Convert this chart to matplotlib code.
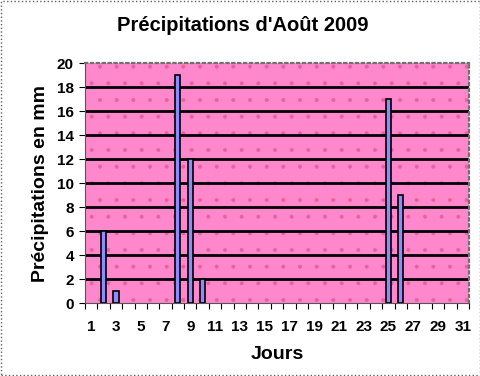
import matplotlib.pyplot as plt
from matplotlib.patches import Rectangle
import numpy as np

plt.rcParams['font.family'] = ['Liberation Sans', 'DejaVu Sans']
plt.rcParams['hatch.linewidth'] = 0.4

# rainfall for each day of August 2009 (mm)
days = list(range(1, 32))
pluie = [0, 6, 1, 0, 0, 0, 0, 19, 12, 2, 0, 0, 0, 0, 0, 0,
         0, 0, 0, 0, 0, 0, 0, 0, 17, 9, 0, 0, 0, 0, 0]
yticks = list(range(0, 21, 2))

fig = plt.figure(figsize=(4.81, 3.76), dpi=100)
ax = fig.add_axes([0.1767, 0.1941, 0.7983, 0.6383])

ax.set_facecolor('#ff88cc')
# sparse dots of the Excel pattern
ax.add_patch(Rectangle((0, 0), 1, 1, transform=ax.transAxes, facecolor='none',
                       edgecolor='#e8609c', hatch='.', linewidth=0, zorder=0))

for y in yticks[1:-1]:
    ax.axhline(y, color='black', linewidth=2, zorder=1)

x = np.array(days)
v = np.array(pluie)
m = v > 0
ax.bar(x[m], v[m], width=0.42, color='#8c8cff', edgecolor='black',
       linewidth=1.2, zorder=3)

ax.set_xlim(0.5, 31.5)
ax.set_ylim(0, 20)
ax.set_yticks(yticks)
ax.set_xticks(days[::2])
ax.set_xticks(np.arange(0.5, 32, 1), minor=True)
ax.tick_params(axis='x', which='major', length=0, pad=12)
ax.tick_params(axis='x', which='minor', length=4, width=0.8, direction='out')
ax.tick_params(axis='y', length=4, width=0.8, direction='out', pad=4)
for lab in ax.get_xticklabels() + ax.get_yticklabels():
    lab.set_fontsize(11)
    lab.set_fontweight('bold')

for s in ['top', 'right']:
    ax.spines[s].set_color('#707070')
    ax.spines[s].set_linestyle(':')
    ax.spines[s].set_linewidth(1.6)
ax.spines['left'].set_color('#555555')
ax.spines['bottom'].set_color('#555555')

ax.set_xlabel('Jours', fontsize=14, fontweight='bold', labelpad=9)
ax.set_ylabel('Précipitations en mm', fontsize=14, fontweight='bold', labelpad=6)
fig.text(0.505, 0.932, "Précipitations d'Août 2009", ha='center', va='center',
         fontsize=14.5, fontweight='bold')

# dotted frame around the whole chart
fig.patches.append(Rectangle((0.002, 0.003), 0.996, 0.994, transform=fig.transFigure,
                             facecolor='none', edgecolor='#606060', linestyle=':',
                             linewidth=1))

fig.savefig('out.png', dpi=100)
